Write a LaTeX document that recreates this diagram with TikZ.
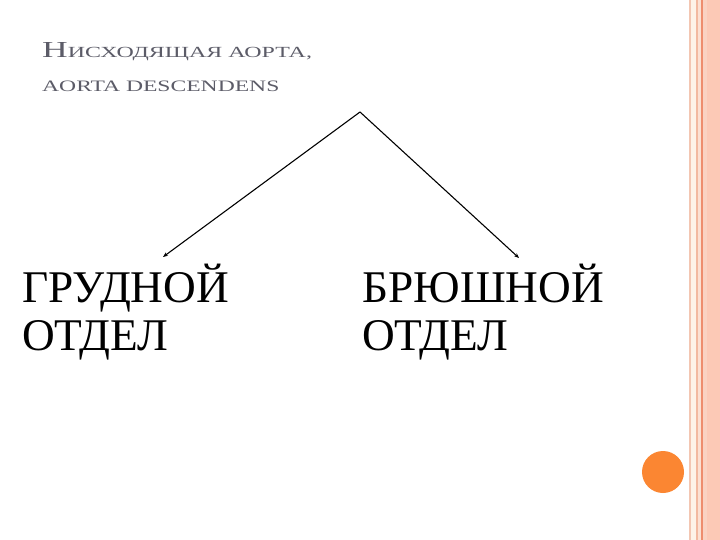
\documentclass[tikz,border=0pt]{standalone}
\usepackage{fontspec}
\setmainfont{Liberation Serif}
\usetikzlibrary{arrows.meta}
\definecolor{titlegrey}{HTML}{5C5C68}
\definecolor{bordA}{HTML}{F3C6B2}
\definecolor{bordB}{HTML}{FDF3E8}
\definecolor{bordC}{HTML}{F2B9A0}
\definecolor{bordD}{HTML}{FBE1D3}
\definecolor{bordE}{HTML}{EE8D6E}
\definecolor{bordF}{HTML}{FAD2C2}
\definecolor{bordG}{HTML}{FCC9B6}
\definecolor{dotorange}{HTML}{FB8632}
\begin{document}
\begin{tikzpicture}[x=1bp,y=-1bp,
  titletext/.style={anchor=base west,inner sep=0pt,text=titlegrey},
  bigtext/.style={anchor=base west,inner sep=0pt,font=\fontsize{45.5}{48}\selectfont,align=left},
  branch/.style={-{Stealth[length=5pt,width=4pt]},line width=1.1pt}]
\useasboundingbox (0,0) rectangle (720,540);
\fill[white] (0,0) rectangle (720,540);
% right border
\fill[bordA] (689,0) rectangle (691,540);
\fill[bordB] (691,0) rectangle (696,540);
\fill[bordC] (696,0) rectangle (697.5,540);
\fill[bordD] (697.5,0) rectangle (701,540);
\fill[bordE] (701,0) rectangle (702.5,540);
\fill[bordF] (702.5,0) rectangle (706.5,540);
\fill[bordG] (706.5,0) rectangle (720,540);
% orange dot
\fill[dotorange] (663,472) circle (21);
% title
\node[titletext] (t1) at (42,58) {\scalebox{1.55}[1]{\fontsize{23}{24}\selectfont Н\fontsize{15.5}{18}\selectfont ИСХОДЯЩАЯ АОРТА,}};
\node[titletext] (t2) at (42,92) {\scalebox{1.48}[1]{\fontsize{16}{18}\selectfont AORTA DESCENDENS}};
% branches
\coordinate (top) at (360,112);
\coordinate (lend) at (163,257);
\coordinate (rend) at (519,258);
\draw[branch] (top) -- (lend);
\draw[branch] (top) -- (rend);
\node[bigtext] (left) at (22,350) {ГРУДНОЙ\\ОТДЕЛ};
\node[bigtext] (right) at (362,350) {БРЮШНОЙ\\ОТДЕЛ};
\end{tikzpicture}
\end{document}
